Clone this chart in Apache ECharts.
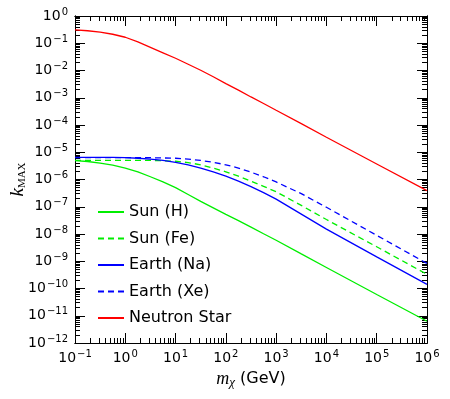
<!DOCTYPE html>
<html>
<head>
<meta charset="utf-8">
<script src="https://cdn.jsdelivr.net/npm/echarts@6/dist/echarts.min.js"></script>
<style>
  html, body { margin: 0; padding: 0; background: #fff; }
  #chart { width: 450px; height: 399px; }
</style>
</head>
<body>
<div id="chart"></div>
<script>
const massGeV = [0.1, 0.178, 0.316, 0.562, 1, 1.78, 3.16, 5.62, 10, 17.8, 31.6, 56.2,
  100, 178, 316, 562, 1000, 3162, 1e4, 1e5, 1e6]

// k_MAX values per target
const sunH = [4.90e-6, 4.57e-6, 3.98e-6, 3.39e-6, 2.63e-6, 1.91e-6, 1.26e-6, 8.13e-7, 5.01e-7, 2.82e-7, 1.58e-7, 9.12e-8,
  5.25e-8, 3.09e-8, 1.78e-8, 1.02e-8, 5.89e-9, 1.86e-9, 5.89e-10, 6.03e-11, 6.31e-12]
const sunFe = [5.01e-6, 5.01e-6, 5.01e-6, 5.01e-6, 5.01e-6, 5.01e-6, 5.01e-6, 4.90e-6, 4.68e-6, 4.17e-6, 3.47e-6, 2.63e-6,
  1.91e-6, 1.32e-6, 8.71e-7, 5.62e-7, 3.55e-7, 1.12e-7, 3.39e-8, 3.39e-9, 3.31e-10]
const earthNa = [6.46e-6, 6.46e-6, 6.46e-6, 6.46e-6, 6.31e-6, 6.03e-6, 5.62e-6, 5.01e-6, 4.27e-6, 3.47e-6, 2.63e-6, 1.91e-6,
  1.32e-6, 8.71e-7, 5.50e-7, 3.31e-7, 1.91e-7, 5.37e-8, 1.51e-8, 1.45e-9, 1.41e-10]
const earthXe = [6.31e-6, 6.31e-6, 6.31e-6, 6.31e-6, 6.31e-6, 6.31e-6, 6.31e-6, 6.17e-6, 6.03e-6, 5.62e-6, 5.01e-6, 4.27e-6,
  3.47e-6, 2.63e-6, 1.86e-6, 1.26e-6, 8.13e-7, 3.02e-7, 9.55e-8, 8.91e-9, 8.32e-10]
const neutron = [0.309, 0.288, 0.257, 0.214, 0.166, 0.112, 0.0708, 0.0447, 0.0282, 0.0170, 0.0102, 0.00589,
  0.00331, 0.00191, 0.00107, 6.17e-4, 3.47e-4, 1.12e-4, 3.55e-5, 3.72e-6, 3.89e-7]

// tick positions
const xMajor = [0.1, 1, 10, 100, 1000, 10000, 1e5, 1e6]
const yMajor = [1e-12, 1e-11, 1e-10, 1e-9, 1e-8, 1e-7, 1e-6, 1e-5, 1e-4, 1e-3, 1e-2, 1e-1, 1]

function minorTicks(major) {
  const out = []
  for (let i = 0; i < major.length - 1; i++)
    for (let k = 2; k <= 9; k++) out.push(major[i] * k)
  return out
}
const xMinor = minorTicks(xMajor)
const yMinor = minorTicks(yMajor)

const FONT = 'DejaVu Sans'
const powLabel = v => {
  const e = Math.round(Math.log10(v))
  return '{b|10}{s|' + String(e).replace('-', '\u2212') + '}'
}
const labelRich = {
  b: { fontFamily: FONT, fontSize: 14, color: '#000', lineHeight: 18 },
  s: { fontFamily: FONT, fontSize: 10, color: '#000', lineHeight: 10, verticalAlign: 'top', padding: [0, 0, 0, 1] }
}

function axis(position, min, max, ticks, len, withLabels) {
  const a = {
    type: 'log', logBase: 10, min, max, position,
    axisLine: { show: true, onZero: false, lineStyle: { color: '#000', width: 1 } },
    axisTick: { show: true, inside: true, length: len, customValues: ticks, lineStyle: { color: '#000', width: 1 } },
    splitLine: { show: false },
    minorTick: { show: false },
    axisLabel: { show: false }
  }
  if (withLabels) {
    a.axisLabel = { show: true, customValues: ticks, formatter: powLabel, rich: labelRich, margin: 6 }
  }
  return a
}

const xAxes = [
  axis('bottom', 0.1, 1e6, xMajor, 10, true),
  axis('bottom', 0.1, 1e6, xMinor, 5, false),
  axis('top', 0.1, 1e6, xMajor, 10, false),
  axis('top', 0.1, 1e6, xMinor, 5, false)
]
xAxes[0].name = '{m|m}{c|\u03c7}{t| (GeV)}'
xAxes[0].nameLocation = 'middle'
xAxes[0].nameGap = 26
xAxes[0].nameMoveOverlap = false
xAxes[0].nameTextStyle = {
  rich: {
    m: { fontFamily: 'Liberation Serif', fontStyle: 'italic', fontSize: 18, color: '#000', lineHeight: 20 },
    c: { fontFamily: 'Liberation Serif', fontStyle: 'italic', fontSize: 13, color: '#000', verticalAlign: 'bottom', lineHeight: 14 },
    t: { fontFamily: FONT, fontSize: 16, color: '#000', lineHeight: 20 }
  }
}

const yAxes = [
  axis('left', 1e-12, 1, yMajor, 10, true),
  axis('left', 1e-12, 1, yMinor, 5, false),
  axis('right', 1e-12, 1, yMajor, 10, false),
  axis('right', 1e-12, 1, yMinor, 5, false)
]
yAxes[0].axisLabel.margin = 7
yAxes[0].name = '{k|k}{sub|MAX}'
yAxes[0].nameLocation = 'middle'
yAxes[0].nameRotate = 90
yAxes[0].nameGap = 47
yAxes[0].nameMoveOverlap = false
yAxes[0].nameTextStyle = {
  rich: {
    k: { fontFamily: 'Liberation Serif', fontStyle: 'italic', fontSize: 19, color: '#000', lineHeight: 20 },
    sub: { fontFamily: 'Liberation Serif', fontSize: 11, color: '#000', verticalAlign: 'bottom', lineHeight: 12 }
  }
}

function line(name, ys, color, dashed) {
  return {
    name, type: 'line', xAxisIndex: 0, yAxisIndex: 0,
    data: massGeV.map((m, i) => [m, ys[i]]),
    showSymbol: false, symbol: 'none', smooth: false,
    lineStyle: { color, width: 1.3, type: dashed ? [6, 4] : 'solid' },
    itemStyle: { color }
  }
}

const chart = echarts.init(document.getElementById('chart'))
chart.setOption({
  animation: false,
  backgroundColor: '#fff',
  grid: { left: 75, right: 23, top: 16, bottom: 56, containLabel: false, outerBoundsMode: 'none' },
  legend: {
    orient: 'vertical', left: 92, top: 199,
    itemWidth: 26, itemHeight: 14, itemGap: 10.5,
    itemStyle: { opacity: 0 },
    textStyle: { fontFamily: FONT, fontSize: 16, color: '#000' },
    data: ['Sun (H)', 'Sun (Fe)', 'Earth (Na)', 'Earth (Xe)', 'Neutron Star']
  },
  xAxis: xAxes,
  yAxis: yAxes,
  series: [
    line('Sun (H)', sunH, '#00ee00', false),
    line('Sun (Fe)', sunFe, '#00ee00', true),
    line('Earth (Na)', earthNa, '#0000ff', false),
    line('Earth (Xe)', earthXe, '#0000ff', true),
    line('Neutron Star', neutron, '#ff0000', false)
  ]
})
</script>
</body>
</html>
